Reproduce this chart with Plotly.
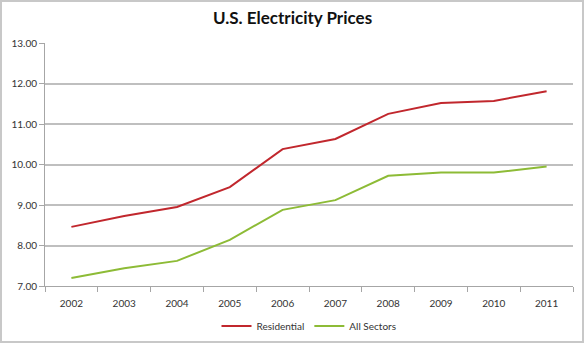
import plotly.graph_objects as go

years = ["2002", "2003", "2004", "2005", "2006", "2007", "2008", "2009", "2010", "2011"]
residential = [8.46, 8.73, 8.95, 9.44, 10.38, 10.63, 11.25, 11.52, 11.57, 11.81]
all_sectors = [7.20, 7.44, 7.62, 8.14, 8.88, 9.12, 9.72, 9.80, 9.80, 9.95]
y_ticks = [7, 8, 9, 10, 11, 12, 13]

W, H = 585, 344
L, R, T, B = 45, 12, 43, 58
pw, ph = W - L - R, H - T - B

fig = go.Figure()
fig.add_trace(go.Scatter(x=years, y=residential, mode="lines", name="Residential",
                         line=dict(color="#C1272D", width=2)))
fig.add_trace(go.Scatter(x=years, y=all_sectors, mode="lines", name="All Sectors",
                         line=dict(color="#8DBB36", width=2)))

fig.update_layout(
    width=W, height=H,
    margin=dict(l=L, r=R, t=T, b=B, autoexpand=False),
    paper_bgcolor="white", plot_bgcolor="white",
    font=dict(family="Lato, Open Sans, sans-serif", size=10, color="#333333"),
    title=dict(text="U.S. Electricity Prices", x=0.5, xanchor="center",
               y=1 - 18 / H, yanchor="middle",
               font=dict(family="Lato, Open Sans, sans-serif", size=17, color="#111111", weight="bold")),
    showlegend=True,
    legend=dict(orientation="h", x=0.5, xanchor="center", y=-40 / ph, yanchor="middle",
                font=dict(size=10, color="#333333"), itemwidth=30, tracegroupgap=0),
    xaxis=dict(type="category", range=[-0.5, 9.5], showgrid=False,
               showline=True, linecolor="#A6A6A6", linewidth=1,
               ticks="outside", tickson="boundaries", ticklen=5, tickcolor="#A6A6A6",
               ticklabelstandoff=8,
               tickfont=dict(size=10, color="#333333"), fixedrange=True),
    yaxis=dict(range=[7, 13], tickvals=y_ticks, ticktext=[f"{v:.2f}" for v in y_ticks],
               showgrid=True, gridcolor="#BFBFBF", gridwidth=1.5,
               showline=True, linecolor="#A6A6A6", linewidth=1,
               ticks="outside", ticklen=5, tickcolor="#A6A6A6",
               tickfont=dict(size=10, color="#333333"), zeroline=False, fixedrange=True),
)

# outer chart border
fig.add_shape(type="rect", xref="paper", yref="paper",
              x0=(1 - L) / pw, x1=(W - L - 2) / pw,
              y0=-(B - 2) / ph, y1=1 + (T - 1) / ph,
              line=dict(color="#C8C8C8", width=2), fillcolor="rgba(0,0,0,0)")

fig.write_html("out.html")
